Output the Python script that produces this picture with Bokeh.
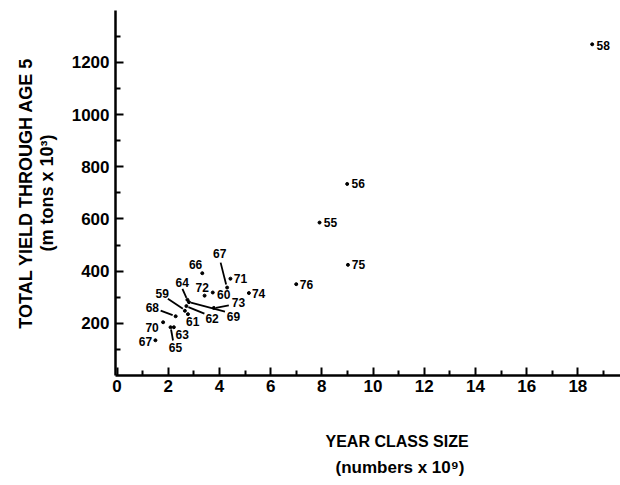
import math
from bokeh.plotting import figure
from bokeh.models import ColumnDataSource, FixedTicker, Range1d, Title
from bokeh.core.properties import value
from bokeh.embed import file_html
from bokeh.resources import INLINE

# ---- data ----
year_labels = ["58", "56", "55", "75", "76", "74", "71", "67", "66", "72", "60",
               "73", "69", "62", "64", "59", "61", "68", "70", "63", "65", "67"]
class_size = [18.56, 8.99, 7.91, 9.02, 7.0, 5.15, 4.43, 4.30, 3.33, 3.42, 3.74,
              3.78, 2.81, 2.71, 2.75, 2.65, 2.77, 2.29, 1.80, 2.22, 2.09, 1.50]
total_yield = [1269, 734, 586, 424, 350, 316, 371, 337, 392, 306, 318,
               259, 281, 266, 290, 248, 235, 227, 204, 185, 185, 135]

x_major = [0, 2, 4, 6, 8, 10, 12, 14, 16, 18]
x_minor = [1, 3, 5, 7, 9, 11, 13, 15, 17, 19]
y_major = [200, 400, 600, 800, 1000, 1200]
y_minor = [100, 300, 500, 700, 900, 1100, 1300]

# ---- layout (screen-pixel label offsets and leader lines) ----
label_dx = [11, 11, 11, 10.5, 10.3, 9.7, 10, -7.4, -6.7, -2.3, 11,
            24.7, 44.5, 25.7, -5.3, -22.6, 4.7, -23.3, -11, 8.4, 5, -10]
label_dy = [1, 0, 0, 0, 0, 0, 0, -33.7, -8.3, -7.7, 2.3,
            -5, 14.5, 12.8, -17.7, -17.7, 7, -8.4, 5, 7.3, 20.6, 1]
leaders = {
    7: (-1, -3, -6.5, -25),
    11: (2, 0, 15, -2.5),
    12: (2, 0.5, 36, 9.5),
    13: (2, 1, 18, 7.5),
    14: (-1, -2, -5, -11),
    15: (-2, -2, -17, -12),
    17: (-3, -1.2, -15, -5.7),
    20: (0.5, 2.3, 2.5, 13.3),
}

W, H = 620, 485
left, right, top, bottom = 115, 0, 10, 109
x0 = -0.06
x1 = x0 + (W - left - right) / 25.6
y0, y1 = 0, (H - top - bottom) / 0.2617
px_per_x = (W - left - right) / (x1 - x0)
px_per_y = (H - top - bottom) / (y1 - y0)

p = figure(width=W, height=H, output_backend="svg", toolbar_location=None,
           x_range=Range1d(x0, x1), y_range=Range1d(y0, y1),
           min_border_left=left, min_border_right=right,
           min_border_top=top, min_border_bottom=bottom)
p.outline_line_color = None
p.grid.visible = False
p.background_fill_color = "white"
p.border_fill_color = "white"

FONT = "Liberation Sans"

for ax, maj, mnr in ((p.xaxis[0], x_major, x_minor), (p.yaxis[0], y_major, y_minor)):
    ax.ticker = FixedTicker(ticks=maj, minor_ticks=mnr)
    ax.axis_line_width = 2.5
    ax.axis_line_color = "black"
    ax.major_tick_in = 8
    ax.major_tick_out = 0
    ax.minor_tick_in = 5
    ax.minor_tick_out = 0
    ax.major_tick_line_width = 2
    ax.minor_tick_line_width = 2
    ax.major_tick_line_color = "black"
    ax.minor_tick_line_color = "black"
    ax.major_label_text_font = FONT
    ax.major_label_text_font_style = "bold"
    ax.major_label_text_font_size = "17px"
    ax.major_label_text_color = "black"
p.xaxis.major_label_standoff = 4
p.yaxis.major_label_standoff = 6

src = ColumnDataSource(dict(x=class_size, y=total_yield, t=year_labels,
                            dx=label_dx, dy=label_dy))
p.scatter("x", "y", source=src, size=3, color="black")
p.text("x", "y", text="t", source=src, x_offset="dx", y_offset="dy",
       text_align="center", text_baseline="middle",
       text_font=value(FONT), text_font_style="bold", text_font_size="12px",
       text_color="black")

sx0, sy0, sx1, sy1 = [], [], [], []
for i, (a, b, c, d) in leaders.items():
    sx0.append(class_size[i] + a / px_per_x)
    sy0.append(total_yield[i] - b / px_per_y)
    sx1.append(class_size[i] + c / px_per_x)
    sy1.append(total_yield[i] - d / px_per_y)
p.segment(sx0, sy0, sx1, sy1, line_color="black", line_width=1.8)

def title(text, place, size, align, offset, standoff, valign="bottom"):
    p.add_layout(Title(text=text, align=align, offset=offset, standoff=standoff,
                       vertical_align=valign,
                       text_font=FONT, text_font_style="bold",
                       text_font_size=size, text_color="black"), place)

title("(m tons x 10³)", "left", "18px", "center", 0, 24)
title("TOTAL YIELD THROUGH AGE 5", "left", "18px", "center", 0, -26)
title("YEAR CLASS SIZE", "below", "16px", "left", 210, 72)
title("(numbers x 10⁹)", "below", "17px", "left", 220, -56, "top")

open("out.html", "w").write(file_html(p, INLINE))
